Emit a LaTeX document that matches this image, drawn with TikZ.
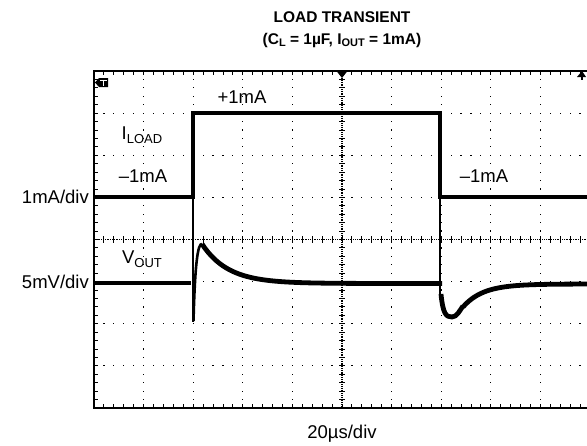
\documentclass[tikz,border=0pt]{standalone}
\usepackage{fontspec}
\setmainfont{Liberation Sans}
\newcommand{\lsub}[1]{\raisebox{-0.35ex}{\fontsize{13}{13}\selectfont #1}}
\newcommand{\tsub}[1]{\raisebox{-0.35ex}{\fontsize{11}{11}\selectfont\bfseries #1}}
\begin{document}
\begin{tikzpicture}[x=1pt,y=-1pt,
  lbl/.style={inner sep=0pt,font=\fontsize{18.5}{18.5}\selectfont},
  ttl/.style={inner sep=0pt,font=\fontsize{15.5}{15.5}\selectfont\bfseries},
  trace/.style={line width=3.8pt,line join=miter},
  vtrace/.style={line width=4.8pt,line join=round},
  frame/.style={line width=2pt},
  tick/.style={line width=0.9pt}]
\useasboundingbox (0,0) rectangle (587,445);
\begin{scope}
\clip (0,0) rectangle (587,445);
% dotted grid, vertical lines
\foreach \i in {1,2,3,4,6,7,8,9}
  \foreach \j in {1,...,39}
    \fill ({94+\i*49.6-0.6},{71+\j*8.425-0.6}) rectangle ++(1.2,1.2);
% dotted grid, horizontal lines
\foreach \j in {1,2,3,5,6,7}
  \foreach \k in {1,...,49}
    \fill ({94+\k*9.92-0.6},{71+\j*42.125-0.6}) rectangle ++(1.2,1.2);
% centre lines
\draw[line width=1.1pt,dash pattern=on 1pt off 0.8pt] (342,71) -- (342,408);
\draw[line width=1.1pt,dash pattern=on 1pt off 0.8pt] (94,239.5) -- (590,239.5);
\foreach \j in {1,...,39}
  \draw[tick] (339,{71+\j*8.425}) -- (345,{71+\j*8.425});
\foreach \k in {1,...,49}
  \draw[tick] ({94+\k*9.92},236) -- ({94+\k*9.92},243);
% border ticks
\foreach \k in {1,...,49} {
  \draw[tick] ({94+\k*9.92},71) -- ({94+\k*9.92},75);
  \draw[tick] ({94+\k*9.92},408) -- ({94+\k*9.92},404);
}
\foreach \j in {1,...,39}
  \draw[tick] (94,{71+\j*8.425}) -- (98,{71+\j*8.425});
% frame
\draw[frame] (590,71) -- (94,71) -- (94,408) -- (590,408);
% markers
\fill (95,82.5) -- (99,78) -- (108,78) -- (108,87) -- (99,87) -- cycle;
\fill[white] (100,79.5) rectangle (107,80.8);
\fill[white] (102.9,80.8) rectangle (104.1,85.8);
\fill (336.5,71) -- (347.5,71) -- (342,78) -- cycle;
\fill (577,77) -- (582,71) -- (586,77) -- cycle;
\draw[line width=1.3pt] (582,74) -- (582,80);
% I_LOAD trace
\draw[trace] (94,197) -- (193,197) -- (193,113) -- (440,113) -- (440,197) -- (590,197);
\draw[line width=2.2pt] (193,197) -- (193,322);
\draw[line width=2.2pt] (440,197) -- (440,300);
% V_OUT trace
\draw[vtrace] (94,283) -- (191,283);
\draw[line width=2.6pt] (193.5,321) .. controls (195,262) and (198,243) .. (202,244);
\draw[vtrace] plot[domain=202:442,samples=80] (\x,{283.5-39.5*exp(-(\x-202)/26)});
\draw[vtrace] (441,294) .. controls (443,314) and (446,317) .. (452,317)
  .. controls (457,317) and (460,310) .. (463,306);
\draw[vtrace] plot[domain=463:590,samples=60] (\x,{284+23*exp(-(\x-463)/20)});
\end{scope}
% labels
\node[ttl] (t1) at (342,17) {LOAD TRANSIENT};
\node[ttl] (t2) at (342,40) {(C\tsub{L} = 1µF, I\tsub{OUT} = 1mA)};
\node[lbl] (plus) at (242,97) {+1mA};
\node[lbl] (iload) at (142,135) {I\lsub{LOAD}};
\node[lbl] (m1) at (143,176) {–1mA};
\node[lbl] (m2) at (484,176) {–1mA};
\node[lbl] (vout) at (142,259) {V\lsub{OUT}};
\node[lbl,anchor=east] (sy1) at (89,197) {1mA/div};
\node[lbl,anchor=east] (sy2) at (89,282) {5mV/div};
\node[lbl] (sx) at (342,434) {20µs/div};
\end{tikzpicture}
\end{document}
